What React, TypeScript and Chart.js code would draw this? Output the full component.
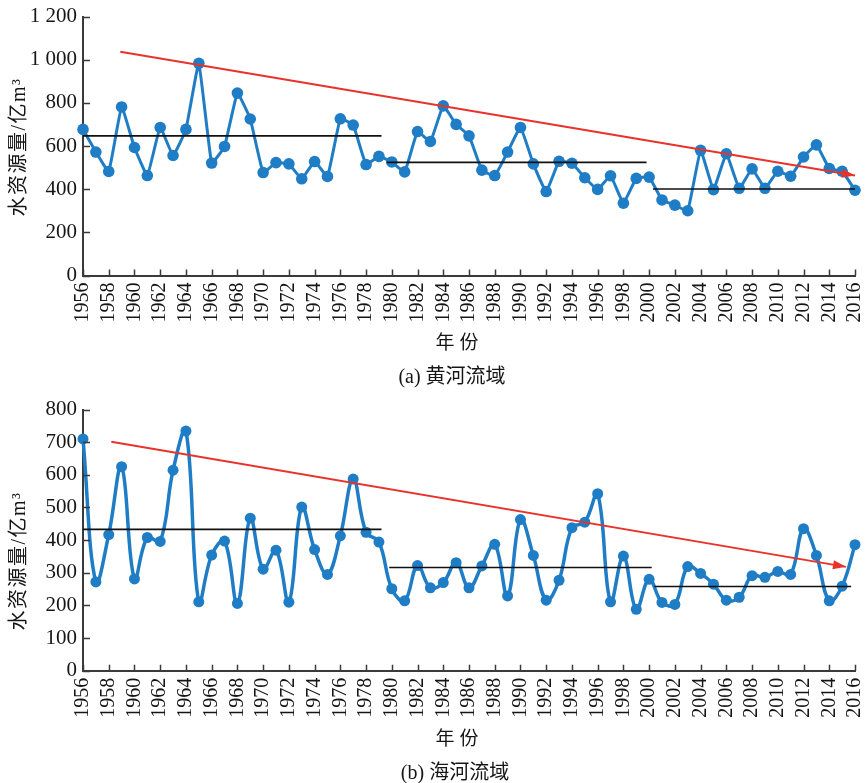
import React, { useEffect, useRef } from "react";
import { Chart, registerables } from "chart.js";

Chart.register(...registerables);

// ---------- data ----------
const years = [
  1956, 1957, 1958, 1959, 1960, 1961, 1962, 1963, 1964, 1965,
  1966, 1967, 1968, 1969, 1970, 1971, 1972, 1973, 1974, 1975,
  1976, 1977, 1978, 1979, 1980, 1981, 1982, 1983, 1984, 1985,
  1986, 1987, 1988, 1989, 1990, 1991, 1992, 1993, 1994, 1995,
  1996, 1997, 1998, 1999, 2000, 2001, 2002, 2003, 2004, 2005,
  2006, 2007, 2008, 2009, 2010, 2011, 2012, 2013, 2014, 2015, 2016,
];

// (a) 黄河流域
const yellowValues = [
  677, 572, 482, 781, 593, 463, 686, 556, 677, 983,
  521, 598, 845, 725, 477, 523, 517, 448, 528, 459,
  726, 697, 514, 552, 526, 480, 667, 621, 786, 700,
  647, 488, 463, 572, 686, 517, 389, 529, 520, 453,
  399, 462, 335, 450, 456, 350, 326, 300, 580, 398,
  564, 404, 494, 404, 483, 460, 549, 605, 496, 483, 395,
];
const yellowMeans = [647, 524, 401];
const yellowMeanSpans = [
  [1956, 1979.2],
  [1979.6, 1999.8],
  [2000.3, 2016],
];
const yellowTrend = [
  [1958.9, 1037],
  [2016, 463],
];

// (b) 海河流域
const haiValues = [
  710, 272, 417, 625, 281, 408, 396, 614, 734, 211,
  354, 397, 206, 467, 311, 369, 210, 501, 371, 295,
  413, 587, 424, 394, 251, 214, 322, 254, 270, 331,
  254, 321, 387, 229, 463, 353, 216, 277, 438, 455,
  542, 211, 351, 188, 280, 209, 203, 319, 298, 265,
  216, 225, 291, 286, 304, 295, 435, 353, 214, 259, 386,
];
const haiMeans = [433, 316, 258];
const haiMeanSpans = [
  [1956, 1979.2],
  [1979.8, 2000.2],
  [2000.4, 2015.7],
];
const haiTrend = [
  [1958.2, 701],
  [2015.3, 318],
];

const yAxisTitle = "水资源量/亿m³";
const xAxisTitle = "年 份";
const captionA = "(a) 黄河流域";
const captionB = "(b) 海河流域";

// ---------- styles ----------
const BLUE = "#1f7dc6";
const RED = "#e8332b";
const AXIS = "#3a3a3a";
const TEXT = "#151515";
const SERIF = "'Liberation Serif', 'Times New Roman', serif";
const MIXED = "'Liberation Serif', 'Noto Sans CJK SC', sans-serif";

const fmtThousands = (v: number) =>
  String(v).replace(/\B(?=(\d{3})+(?!\d))/g, " ");

const tickMarks = {
  id: "tickMarks",
  afterDraw(chart: any) {
    const { ctx, chartArea, scales } = chart;
    ctx.save();
    ctx.strokeStyle = AXIS;
    ctx.lineWidth = 1.5;
    ctx.beginPath();
    scales.x.ticks.forEach((t: any) => {
      const px = Math.round(scales.x.getPixelForValue(t.value)) + 0.5;
      ctx.moveTo(px, chartArea.bottom);
      ctx.lineTo(px, chartArea.bottom - 6);
    });
    scales.y.ticks.forEach((t: any) => {
      const py = Math.round(scales.y.getPixelForValue(t.value)) + 0.5;
      ctx.moveTo(chartArea.left, py);
      ctx.lineTo(chartArea.left + 7, py);
    });
    ctx.stroke();
    ctx.restore();
  },
};

const arrowHead = {
  id: "arrowHead",
  afterDatasetsDraw(chart: any) {
    const { ctx } = chart;
    chart.data.datasets.forEach((ds: any, i: number) => {
      if (!ds.arrow) return;
      const pts = chart.getDatasetMeta(i).data;
      if (pts.length < 2) return;
      const a = pts[pts.length - 2];
      const b = pts[pts.length - 1];
      const ang = Math.atan2(b.y - a.y, b.x - a.x);
      ctx.save();
      ctx.translate(b.x, b.y);
      ctx.rotate(ang);
      ctx.beginPath();
      ctx.moveTo(0, 0);
      ctx.lineTo(-13, -4.5);
      ctx.lineTo(-13, 4.5);
      ctx.closePath();
      ctx.fillStyle = ds.borderColor;
      ctx.fill();
      ctx.restore();
    });
  },
};

type TextItem = {
  text: string;
  x: number;
  y: number;
  rotation?: number;
  font: string;
  spacing?: number;
};

const makeTextPlugin = (items: TextItem[]) => ({
  id: "panelText",
  afterDraw(chart: any) {
    const { ctx } = chart;
    items.forEach((it) => {
      ctx.save();
      ctx.translate(it.x, it.y);
      ctx.rotate(it.rotation || 0);
      ctx.font = it.font;
      if (it.spacing) (ctx as any).letterSpacing = it.spacing + "px";
      ctx.fillStyle = TEXT;
      ctx.textAlign = "center";
      ctx.textBaseline = "middle";
      ctx.fillText(it.text, 0, 0);
      ctx.restore();
    });
  },
});

type PanelParams = {
  values: number[];
  means: number[];
  spans: number[][];
  trend: number[][];
  yMax: number;
  yStep: number;
  padTop: number;
  xHeight: number;
  tension: number;
  lineWidth: number;
  pointRadius: number;
  texts: TextItem[];
};

function buildConfig(p: PanelParams): any {
  return {
    type: "line",
    data: {
      datasets: [
        {
          label: "series",
          data: years.map((yr, i) => ({ x: yr, y: p.values[i] })),
          borderColor: BLUE,
          backgroundColor: BLUE,
          pointBackgroundColor: BLUE,
          pointBorderWidth: 0,
          pointRadius: p.pointRadius,
          borderWidth: p.lineWidth,
          tension: p.tension,
          clip: false,
          order: 3,
        },
        ...p.spans.map((s, i) => ({
          label: "mean" + i,
          data: [
            { x: s[0], y: p.means[i] },
            { x: s[1], y: p.means[i] },
          ],
          borderColor: "#111111",
          borderWidth: 1.6,
          pointRadius: 0,
          tension: 0,
          clip: false,
          order: 2,
        })),
        {
          label: "trend",
          arrow: true,
          data: p.trend.map(([x, y]) => ({ x, y })),
          borderColor: RED,
          borderWidth: 2,
          pointRadius: 0,
          tension: 0,
          clip: false,
          order: 1,
        },
      ],
    },
    options: {
      responsive: false,
      animation: false,
      events: [],
      layout: { padding: { left: 0, right: 11, top: p.padTop, bottom: 0 } },
      plugins: {
        legend: { display: false },
        tooltip: { enabled: false },
        title: { display: false },
      },
      scales: {
        x: {
          type: "linear",
          min: 1956,
          max: 2016,
          afterFit: (s: any) => {
            s.height = p.xHeight;
            s.paddingLeft = 0;
            s.paddingRight = 0;
          },
          grid: { display: false, drawTicks: false },
          border: { display: true, color: AXIS, width: 2 },
          ticks: {
            stepSize: 2,
            autoSkip: false,
            minRotation: 90,
            maxRotation: 90,
            padding: 7,
            color: TEXT,
            font: { family: SERIF, size: 20, lineHeight: 1 },
            callback: (v: number) => String(v),
          },
        },
        y: {
          min: 0,
          max: p.yMax,
          afterFit: (s: any) => {
            s.width = 83;
          },
          grid: { display: false, drawTicks: false },
          border: { display: true, color: AXIS, width: 2 },
          ticks: {
            stepSize: p.yStep,
            padding: 6,
            color: TEXT,
            font: { family: SERIF, size: 21, lineHeight: 1 },
            callback: (v: number) => fmtThousands(v),
          },
        },
      },
    },
    plugins: [tickMarks, arrowHead, makeTextPlugin(p.texts)],
  };
}

export default function App() {
  const topRef = useRef<HTMLCanvasElement>(null);
  const botRef = useRef<HTMLCanvasElement>(null);

  useEffect(() => {
    const c1 = new Chart(
      topRef.current as HTMLCanvasElement,
      buildConfig({
        values: yellowValues,
        means: yellowMeans,
        spans: yellowMeanSpans,
        trend: yellowTrend,
        yMax: 1200,
        yStep: 200,
        padTop: 13.5,
        xHeight: 392 - 275.5,
        tension: 0.1,
        lineWidth: 3,
        pointRadius: 5.8,
        texts: [
          { text: yAxisTitle, x: 20, y: 147, rotation: -Math.PI / 2, font: `20px ${MIXED}`, spacing: 1.5 },
          { text: xAxisTitle, x: 457, y: 344, font: `19px ${MIXED}` },
          { text: captionA, x: 452, y: 378, font: `20px ${MIXED}` },
        ],
      })
    );
    const c2 = new Chart(
      botRef.current as HTMLCanvasElement,
      buildConfig({
        values: haiValues,
        means: haiMeans,
        spans: haiMeanSpans,
        trend: haiTrend,
        yMax: 800,
        yStep: 100,
        padTop: 17.5,
        xHeight: 391 - 278.7,
        tension: 0.4,
        lineWidth: 3.5,
        pointRadius: 5.5,
        texts: [
          { text: yAxisTitle, x: 20, y: 169, rotation: -Math.PI / 2, font: `20px ${MIXED}`, spacing: 1.5 },
          { text: xAxisTitle, x: 457, y: 348, font: `19px ${MIXED}` },
          { text: captionB, x: 455, y: 382, font: `20px ${MIXED}` },
        ],
      })
    );
    return () => {
      c1.destroy();
      c2.destroy();
    };
  }, []);

  return (
    <div
      style={{
        position: "absolute",
        left: 0,
        top: 0,
        width: 866,
        height: 783,
        background: "#ffffff",
      }}
    >
      <canvas
        ref={topRef}
        width={866}
        height={392}
        style={{ display: "block", width: 866, height: 392 }}
      />
      <canvas
        ref={botRef}
        width={866}
        height={391}
        style={{ display: "block", width: 866, height: 391 }}
      />
    </div>
  );
}
